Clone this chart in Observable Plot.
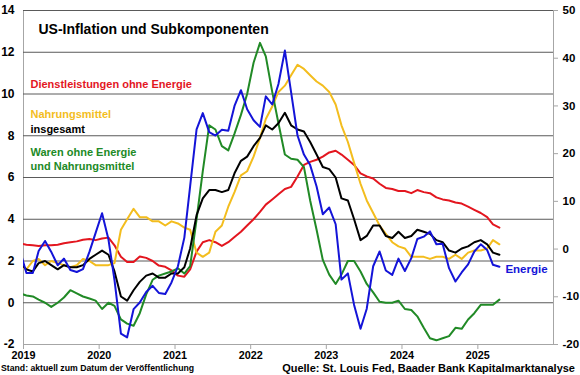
<!DOCTYPE html>
<html><head><meta charset="utf-8">
<script src="https://cdn.jsdelivr.net/npm/d3@7"></script>
<script src="https://cdn.jsdelivr.net/npm/@observablehq/plot@0.6"></script>
<style>
body{margin:0;background:#fff;}
#wrap{position:relative;width:580px;height:375px;font-family:"Liberation Sans",Arial,sans-serif;font-weight:bold;color:#000;}
#foot-left{position:absolute;left:1px;top:362px;font-size:8.7px;line-height:12px;white-space:nowrap;}
#foot-right{position:absolute;right:5px;top:361px;font-size:11px;line-height:14px;white-space:nowrap;}
</style></head><body>
<div id="wrap"><div id="chart"></div>
<div id="foot-left">Stand: aktuell zum Datum der Veröffentlichung</div>
<div id="foot-right">Quelle: St. Louis Fed, Baader Bank Kapitalmarktanalyse</div>
</div>
<script>
// Monthly y/y rates, Dec 2018 ... Apr 2025 (Dec 2018 is clipped at the left edge)
const firstYear = 2018, firstMonth = 11;
const insgesamt = [1.9,
 1.6,1.5,1.9,2.0,1.8,1.6,1.8,1.7,1.7,1.8,2.1,2.3,
 2.5,2.3,1.5,0.3,0.1,0.6,1.0,1.3,1.4,1.2,1.2,1.4,
 1.4,1.7,2.6,4.2,5.0,5.4,5.4,5.3,5.4,6.2,6.8,7.0,
 7.5,7.9,8.5,8.3,8.6,9.1,8.5,8.3,8.2,7.7,7.1,6.5,
 6.4,6.0,5.0,4.9,4.0,3.0,3.2,3.7,3.7,3.2,3.1,3.4,
 3.1,3.2,3.5,3.4,3.3,3.0,2.9,2.5,2.4,2.6,2.7,2.9,
 3.0,2.8,2.4,2.3];
const nahrungsmittel = [1.8,
 1.6,2.0,2.1,1.8,2.0,1.9,1.8,1.7,1.8,2.1,2.0,1.8,
 1.8,1.8,1.9,3.5,4.0,4.5,4.1,4.1,3.9,3.9,3.7,3.9,
 3.8,3.6,3.5,2.4,2.2,2.4,3.4,3.7,4.6,5.3,6.1,6.3,
 7.0,7.9,8.8,9.4,10.1,10.4,10.9,11.4,11.2,10.9,10.6,10.4,
 10.1,9.5,8.5,7.7,6.7,5.7,4.9,4.3,3.7,3.3,2.9,2.7,
 2.6,2.2,2.2,2.2,2.1,2.2,2.2,2.1,2.3,2.1,2.4,2.5,
 2.5,2.6,3.0,2.8];
const waren = [0.45,
 0.35,0.3,0.15,0.0,-0.2,0.0,0.25,0.6,0.45,0.3,0.2,0.1,
 -0.3,0.0,-0.15,-0.8,-1.0,-1.1,-0.5,0.4,1.1,1.3,1.4,1.5,
 1.65,1.4,1.75,4.0,6.3,8.5,8.3,7.5,7.3,8.1,9.0,10.0,
 11.5,12.45,11.8,10.1,8.6,7.1,6.9,6.85,6.5,4.9,3.5,2.05,
 1.35,0.9,1.35,2.0,2.0,1.5,0.9,0.5,0.05,0.0,0.0,0.1,
 -0.3,-0.35,-0.65,-1.2,-1.7,-1.8,-1.7,-1.6,-1.2,-1.25,-0.8,-0.5,
 -0.1,-0.1,-0.1,0.15];
const dienstleistungen = [2.85,
 2.78,2.75,2.72,2.75,2.75,2.78,2.85,2.9,2.94,3.02,3.05,3.0,
 3.08,3.12,2.75,2.2,1.95,1.95,2.22,2.15,2.0,1.78,1.72,1.55,
 1.3,1.25,1.6,2.45,2.9,3.0,2.9,2.72,2.9,3.15,3.4,3.7,
 4.0,4.35,4.7,4.95,5.2,5.45,5.55,6.05,6.6,6.75,6.85,7.0,
 7.2,7.28,7.1,6.85,6.6,6.2,6.05,5.95,5.7,5.5,5.45,5.35,
 5.35,5.25,5.4,5.3,5.25,5.05,4.95,4.9,4.8,4.75,4.6,4.45,
 4.3,4.1,3.75,3.6];
const energie = [-0.3,
 -5.0,-5.0,-0.4,1.7,-0.6,-3.4,-2.0,-4.4,-4.8,-4.2,-0.6,3.4,
 7.5,2.0,-6.5,-17.7,-18.5,-12.6,-11.2,-9.0,-7.7,-9.2,-9.4,-7.0,
 -3.6,2.4,13.2,25.1,28.5,24.5,23.8,25.0,24.8,30.0,33.3,29.3,
 27.0,25.6,32.0,30.3,34.6,41.6,32.9,23.8,19.8,17.6,13.1,7.3,
 8.7,5.2,-6.4,-5.1,-11.7,-16.7,-12.5,-3.6,-0.5,-4.5,-5.4,-2.0,
 -4.6,-1.9,2.1,2.6,3.7,1.0,1.1,-4.0,-6.8,-4.9,-3.2,-0.5,
 1.0,-0.2,-3.3,-3.7];

const leftTicks = [-2,0,2,4,6,8,10,12,14];
const rightTicks = [-20,-10,0,10,20,30,40,50];
const yearTicks = [2019,2020,2021,2022,2023,2024,2025];
const xStart = 2019, xEnd = 2026;

const labelTitle = "US-Inflation und Subkomponenten";
const labelDienst = "Dienstleistungen ohne Energie";
const labelNahrung = "Nahrungsmittel";
const labelGesamt = "insgesamt";
const labelWaren1 = "Waren ohne Energie";
const labelWaren2 = "und Nahrungsmittel";
const labelEnergie = "Energie";

const colors = {dienst:"#e3161f", nahrung:"#f3bd1e", waren:"#218a26", gesamt:"#000000", energie:"#1414d8"};

// right axis (energy) mapped onto left scale
const L0 = -2, L1 = 14, R0 = -20, R1 = 50;
const toLeft = v => L0 + (v - R0) * (L1 - L0) / (R1 - R0);
const fromLeft = v => R0 + (v - L0) * (R1 - R0) / (L1 - L0);

const dateOf = i => new Date(Date.UTC(firstYear, firstMonth + i, 15));
const rows = (arr, key, map = v => v) => arr.map((v, i) => ({date: dateOf(i), value: map(v), key}));

const rDienst = rows(dienstleistungen, "dienst");
const rNahrung = rows(nahrungsmittel, "nahrung");
const rWaren = rows(waren, "waren");
const rGesamt = rows(insgesamt, "gesamt");
const rEnergie = rows(energie, "energie", toLeft);

const line = (data, c) => Plot.lineY(data, {x: "date", y: "value", stroke: c, strokeWidth: 2, clip: true, curve: "linear"});

const chart = Plot.plot({
  width: 580, height: 375,
  marginTop: 10, marginRight: 27, marginBottom: 31, marginLeft: 23,
  style: {fontFamily: "'Liberation Sans', Arial, sans-serif", fontWeight: "bold", fontSize: "12px", background: "#fff", color: "#000"},
  x: {type: "utc", domain: [new Date(Date.UTC(xStart,0,1)), new Date(Date.UTC(xEnd,0,1))], label: null},
  y: {domain: [L0, L1], label: null},
  marks: [
    Plot.frame({stroke: "#a6a6a6"}),
    Plot.gridY({ticks: leftTicks.filter(d => d > L0), stroke: "#5a5a5a", strokeOpacity: 1, strokeWidth: 1}),
    line(rDienst, colors.dienst),
    line(rNahrung, colors.nahrung),
    line(rWaren, colors.waren),
    line(rGesamt, colors.gesamt),
    line(rEnergie, colors.energie),
    Plot.axisY({anchor: "left", label: null, ticks: leftTicks, tickSize: 0, tickPadding: 9, tickFormat: d => String(d), fontSize: 12}),
    Plot.axisY({anchor: "right", label: null, ticks: rightTicks.map(toLeft), tickSize: 4, tickPadding: 5, stroke: "#a6a6a6", fill: "#000",
      tickFormat: d => String(Math.round(fromLeft(d))), fontSize: 11.5}),
    Plot.axisX({label: null, ticks: yearTicks.map(y => new Date(Date.UTC(y,0,1))), tickFormat: d3.utcFormat("%Y"), tickSize: 5, tickPadding: 2,
      stroke: "#a6a6a6", fill: "#000", fontSize: 10.8}),
    Plot.text([labelTitle], {text: d => d, frameAnchor: "top-left", dx: 15, dy: 14, textAnchor: "start", fontSize: 14, fill: "#000"}),
    Plot.text([labelDienst], {text: d => d, frameAnchor: "top-left", dx: 7, dy: 70, textAnchor: "start", fontSize: 11, fill: colors.dienst}),
    Plot.text([labelNahrung], {text: d => d, frameAnchor: "top-left", dx: 7, dy: 100, textAnchor: "start", fontSize: 11, fill: colors.nahrung}),
    Plot.text([labelGesamt], {text: d => d, frameAnchor: "top-left", dx: 7, dy: 115, textAnchor: "start", fontSize: 11, fill: "#000"}),
    Plot.text([labelWaren1], {text: d => d, frameAnchor: "top-left", dx: 7, dy: 138, textAnchor: "start", fontSize: 11, fill: colors.waren}),
    Plot.text([labelWaren2], {text: d => d, frameAnchor: "top-left", dx: 7, dy: 152, textAnchor: "start", fontSize: 11, fill: colors.waren}),
    Plot.text(rEnergie.slice(-1), {x: "date", y: "value", text: () => labelEnergie, dx: 6, dy: 3, textAnchor: "start", fontSize: 11.5, fill: colors.energie})
  ]
});
document.getElementById("chart").appendChild(chart);
</script>
</body></html>
